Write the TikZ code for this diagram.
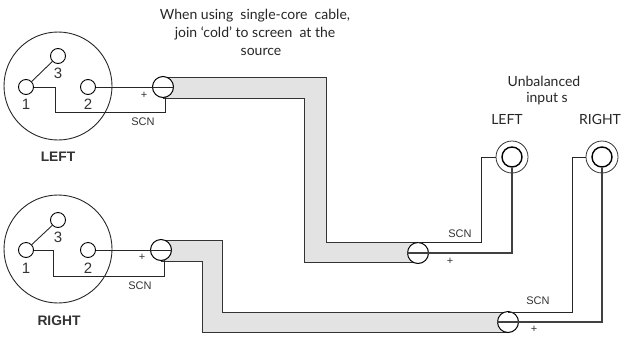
\documentclass[tikz,border=0pt]{standalone}
\usepackage{fontspec}
\setmainfont{Lato}
\newfontfamily\arialfont{Liberation Sans}
\begin{document}
\begin{tikzpicture}[x=1pt,y=-1pt,
  wire/.style={draw=black!85,line width=0.9pt},
  hotwire/.style={draw=black!75,line width=1.2pt},
  shell/.style={circle,draw=black!85,line width=0.9pt,inner sep=0pt,minimum size=108pt},
  pin/.style={circle,draw=black,line width=0.9pt,inner sep=0pt,minimum size=15pt},
  plug/.style={circle,draw=black,line width=1pt,inner sep=0pt,minimum size=21pt},
  jackouter/.style={circle,draw=black!80,line width=0.8pt,inner sep=0pt,minimum size=32pt},
  jackinner/.style={circle,draw=black,line width=1.4pt,inner sep=0pt,minimum size=20pt},
  cable/.style={fill=black!11,draw=black!80,line width=1pt},
  pinlabel/.style={font=\arialfont\fontsize{15}{15}\selectfont,text=black!80,inner sep=0pt},
  small/.style={font=\arialfont\fontsize{11}{11}\selectfont,text=black!80,inner sep=0pt},
  side/.style={font=\arialfont\bfseries\fontsize{13.8}{14}\selectfont,text=black!80,inner sep=0pt},
  note/.style={font=\fontsize{14}{18}\selectfont,text=black!85,inner sep=0pt,align=center},
  head/.style={font=\fontsize{14}{14}\selectfont,text=black!85,inner sep=0pt}]
\useasboundingbox (0,0) rectangle (623,338);
% cables
\draw[cable] (163,77) -- (326,77) -- (326,242) -- (418,242) -- (418,262) -- (304,262) -- (304,98) -- (163,98) -- cycle;
\draw[cable] (161,240) -- (222,240) -- (222,312) -- (508,312) -- (508,332) -- (202,332) -- (202,261) -- (161,261) -- cycle;
% left XLR
\node[shell] (shL) at (58,86) {};
\node[pin] (p1L) at (26,87) {};
\node[pin] (p2L) at (88,87) {};
\node[pin] (p3L) at (58,56) {};
\node[pinlabel] (n1L) at (26,104) {1};
\node[pinlabel] (n2L) at (88,104) {2};
\node[pinlabel] (n3L) at (58,73) {3};
\node[side] (nameL) at (58,157) {LEFT};
% right XLR
\node[shell] (shR) at (58,249) {};
\node[pin] (p1R) at (26,250) {};
\node[pin] (p2R) at (88,250) {};
\node[pin] (p3R) at (58,220) {};
\node[pinlabel] (n1R) at (26,268) {1};
\node[pinlabel] (n2R) at (88,268) {2};
\node[pinlabel] (n3R) at (58,237) {3};
\node[side] (nameR) at (59,321) {RIGHT};
% plugs
\node[plug,fill=white] (cAL) at (163,87) {};
\node[plug,fill=white] (cBL) at (161,250) {};
\node[plug,fill=white] (cAR) at (418,253) {};
\node[plug,fill=white] (cBR) at (508,322) {};
% jacks
\node[jackouter] (jo1) at (512,157) {};
\node[jackinner] (ji1) at (512,157) {};
\node[jackouter] (jo2) at (602,157) {};
\node[jackinner] (ji2) at (602,157) {};
% wires
\draw[wire] (p3L) -- (p1L);
\draw[wire] (p2L.east) -- (cAL.east);
\draw[wire] (p1L.east) -- (55,87) -- (55,112) -- (165,112) -- (165,97);
\draw[wire] (p3R) -- (p1R);
\draw[wire] (p2R.east) -- (cBL.east);
\draw[wire] (p1R.east) -- (53,250) -- (53,276) -- (164,276) -- (164,260);
\draw[hotwire] (cAR.west) -- (ji1.south |- cAR.west) -- (ji1.south);
\draw[wire] (jo1.west) -- (481,157) -- (481,242) -- (418,242);
\draw[hotwire] (cBR.west) -- (ji2.south |- cBR.west) -- (ji2.south);
\draw[wire] (jo2.west) -- (572,157) -- (572,312) -- (508,312);
% labels
\node[small] (plusA) at (144,95) {+};
\node[small] (scnA) at (143,122) {SCN};
\node[small] (plusB) at (142,257) {+};
\node[small] (scnB) at (140,286) {SCN};
\node[small] (scnC) at (460,234) {SCN};
\node[small] (plusC) at (450,261) {+};
\node[small] (scnD) at (538,301) {SCN};
\node[small] (plusD) at (534,329) {+};
\node[note] (noteT) at (255,32) {When using\ \ single-core\ \ cable,\\join `cold' to screen\ \ at the\\\hspace{12pt}source};
\node[head] (ub1) at (544,81) {Unbalanced};
\node[head] (ub2) at (547,99) {input s};
\node[head] (hL) at (507,119) {LEFT};
\node[head] (hR) at (600,119) {RIGHT};
\end{tikzpicture}
\end{document}
